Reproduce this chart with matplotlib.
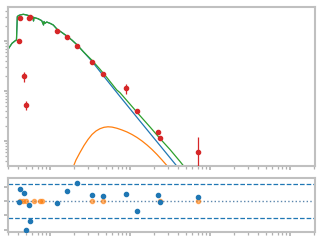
import matplotlib
matplotlib.use("Agg")
import matplotlib.pyplot as plt
import numpy as np

# Observed photometry (wavelength, flux, error)
obs_wl = [0.413, 0.425, 0.477, 0.506, 0.546, 0.557, 1.23, 1.64, 2.19, 3.38, 4.64,
          8.99, 12.3, 22.6, 23.9, 71.4]
obs_flux = [98.6, 284, 19.7, 5.18, 295, 305, 161, 119, 78.3, 38.0, 21.9,
            11.3, 3.98, 1.49, 1.13, 0.603]
obs_err = [0, 0, 4.5, 1.0, 0, 0, 0, 0, 0, 0, 0,
           2.7, 0, 0, 0, 0.6]

# Total model (green)
tot_wl = [0.2985, 0.335, 0.355, 0.368, 0.381, 0.390, 0.402, 0.422, 0.464, 0.511, 0.562,
          0.613, 0.622, 0.631, 0.708, 0.788, 0.830, 0.841, 0.866, 0.910, 0.944, 1.0,
          1.099, 1.23, 1.40, 1.62, 1.87, 2.19, 2.61, 3.32, 4.22, 5.11, 6.82, 7.50,
          10.0, 13.3, 17.8, 23.7, 31.6, 42.2, 56.2]
tot_flux = [68.2, 89.9, 96.8, 101.4, 104.7, 306, 321, 331, 342, 331, 316,
            302, 251, 295, 279, 255, 209, 245.5, 226, 240, 234, 226,
            209, 171, 149, 126, 105, 83.2, 61.1, 41.7, 27.2, 18.8, 10.5, 9.25,
            5.45, 3.22, 1.905, 1.12, 0.676, 0.389, 0.219]

# Stellar photosphere (blue)
star_wl = [0.2985, 0.335, 0.355, 0.368, 0.381, 0.390, 0.402, 0.422, 0.464, 0.511, 0.562,
           0.613, 0.622, 0.631, 0.708, 0.788, 0.830, 0.841, 0.866, 0.910, 0.944, 1.0,
           1.099, 1.23, 1.40, 1.62, 1.87, 2.19, 2.61, 3.32, 4.22, 5.62, 7.50,
           13.3, 23.7, 42.2, 56.2]
star_flux = [68.2, 89.9, 96.8, 101.4, 104.7, 306, 321, 331, 342, 331, 316,
             302, 251, 295, 279, 255, 209, 245.5, 226, 240, 234, 226,
             209, 171, 149, 126, 105, 83.2, 61.1, 39.8, 24.5, 13.8, 7.76,
             2.51, 0.813, 0.263, 0.148]

# Dust blackbody (orange)
dust_wl = [1.955, 2.113, 2.371, 2.661, 2.985, 3.350, 3.758, 4.217, 4.732, 5.309,
           5.957, 6.879, 7.943, 9.173, 10.59, 12.24, 14.13, 16.31, 18.84, 21.75,
           25.12, 29.00, 33.50]
dust_flux = [0.306, 0.417, 0.589, 0.813, 1.072, 1.349, 1.585, 1.762, 1.879, 1.923,
             1.897, 1.795, 1.660, 1.514, 1.349, 1.175, 1.0, 0.832, 0.676, 0.537,
             0.417, 0.321, 0.245]

# Residuals
res_wl = [0.413, 0.425, 0.477, 0.506, 0.546, 0.557, 1.23, 1.64, 2.19, 3.38, 4.64,
          8.99, 12.3, 22.6, 23.9, 71.4]
res_val = [-0.07, 0.84, 0.53, -2.04, -0.28, -1.39, -0.14, 0.70, 1.27, 0.44, 0.35,
           0.51, -0.70, 0.44, -0.05, 0.28]
res2_wl = [0.425, 0.464, 0.506, 0.625, 0.756, 0.794, 3.38, 4.64, 23.9, 71.4]
res2_val = [0, 0, 0, 0, 0, 0, 0, 0, 0, 0]
res_limits = [1.2, 0.0, -1.2]

xlim = (0.2985, 2054)
ylim = (0.316, 478.6)
rylim = (-2.17, 1.61)

spine_col = "#c0c0c0"
tick_col = "#b0b0b0"

fig = plt.figure(figsize=(3.2, 2.4), dpi=100)
ax1 = fig.add_axes([8/320, (240-166)/240, 307/320, 159/240])
ax2 = fig.add_axes([8/320, (240-232)/240, 307/320, 54/240])

ax1.plot(star_wl, star_flux, color="#1f77b4", lw=0.9)
ax1.plot(dust_wl, dust_flux, color="#ff7f0e", lw=0.9)
ax1.plot(tot_wl, tot_flux, color="#2ca02c", lw=0.9)
ax1.errorbar(obs_wl, obs_flux, yerr=obs_err, fmt="o", color="#d62728",
             ms=3, elinewidth=0.9, capsize=0, zorder=5)
ax1.set_xscale("log")
ax1.set_yscale("log")
ax1.set_xlim(*xlim)
ax1.set_ylim(*ylim)

ax2.axhline(res_limits[0], color="#1f77b4", ls="--", lw=0.9)
ax2.axhline(res_limits[2], color="#1f77b4", ls="--", lw=0.9)
ax2.axhline(res_limits[1], color="#5b86ad", ls=":", lw=1.0)
ax2.plot(res2_wl, res2_val, "o", color="#ff7f0e", ms=3, alpha=0.6, zorder=4)
ax2.plot(res_wl, res_val, "o", color="#1f77b4", ms=3, zorder=5)
ax2.set_xscale("log")
ax2.set_xlim(*xlim)
ax2.set_ylim(*rylim)
ax2.set_yticks([-2, -1, 0, 1])

for ax in (ax1, ax2):
    for s in ax.spines.values():
        s.set_color(spine_col)
        s.set_linewidth(1.5)
    ax.tick_params(which="both", direction="out", colors=tick_col,
                   labelleft=False, labelbottom=False)
    ax.tick_params(which="major", length=3, width=1.2)
    ax.tick_params(which="minor", length=2, width=0.9)

fig.savefig("out.png", dpi=100)
